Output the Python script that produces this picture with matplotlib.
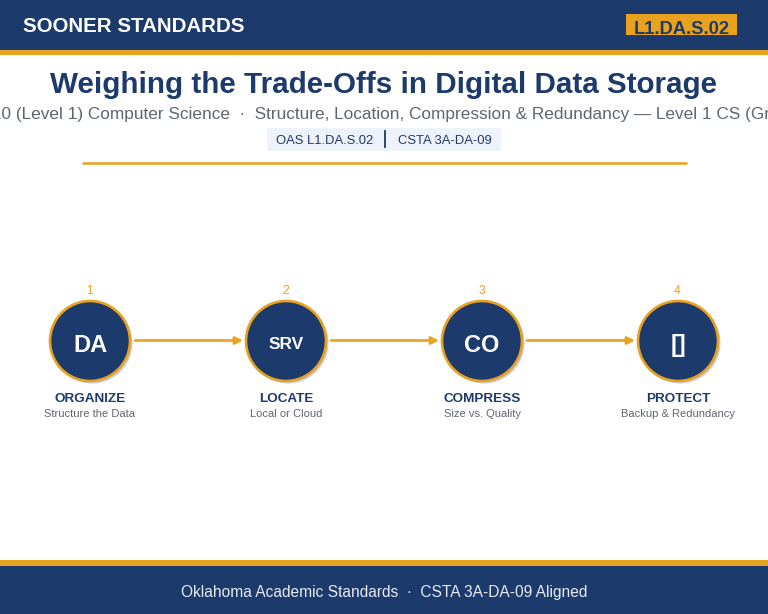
import matplotlib
matplotlib.use("Agg")
import matplotlib.pyplot as plt
from matplotlib.patches import Circle, Rectangle

plt.rcParams["font.family"] = ["Liberation Sans", "DejaVu Sans"]

#Text content
header = "SOONER STANDARDS"
badge = "L1.DA.S.02"
title = "Weighing the Trade-Offs in Digital Data Storage"
subtitle = "Grades 9-10 (Level 1) Computer Science  \u00b7  Structure, Location, Compression & Redundancy \u2014 Level 1 CS (Grades 9-10)"
tag_left = "OAS L1.DA.S.02"
tag_right = "CSTA 3A-DA-09"
footer = "Oklahoma Academic Standards  \u00b7  CSTA 3A-DA-09 Aligned"

#Process steps
numbers = ["1", "2", "3", "4"]
icons = ["DA", "SRV", "CO", "[]"]
icon_sizes = [17, 12.5, 17, 17]
names = ["ORGANIZE", "LOCATE", "COMPRESS", "PROTECT"]
captions = ["Structure the Data", "Local or Cloud", "Size vs. Quality", "Backup & Redundancy"]

navy = "#1c3a6b"
gold = "#e9a120"
grey = "#5f6670"

fig = plt.figure(figsize=(7.68, 6.14), dpi=100)
ax = fig.add_axes([0, 0, 1, 1])
ax.set_xlim(0, 768)
ax.set_ylim(614, 0)
ax.axis("off")

#Header band
ax.add_patch(Rectangle((0, 0), 768, 49.5, color=navy, lw=0))
ax.add_patch(Rectangle((0, 49.5), 768, 5, color=gold, lw=0))
ax.text(23, 26.5, header, color="white", fontsize=14.75, fontweight="bold", ha="left", va="center")
ax.add_patch(Rectangle((626, 14), 111, 21, color=gold, lw=0))
ax.text(681.5, 29.5, badge, color=navy, fontsize=13.2, fontweight="bold", ha="center", va="center")

#Title block
ax.text(384, 85, title, color=navy, fontsize=21.3, fontweight="bold", ha="center", va="center")
ax.text(384, 114.5, subtitle, color=grey, fontsize=12.4, ha="center", va="center")
ax.add_patch(Rectangle((267, 128), 234, 23, color="#eef2fa", lw=0))
ax.text(324.5, 140.5, tag_left, color=navy, fontsize=9.4, ha="center", va="center")
ax.plot([384.5, 384.5], [131, 147], color=navy, lw=1.3)
ax.text(444.5, 140.5, tag_right, color=navy, fontsize=9.4, ha="center", va="center")
ax.plot([82, 687], [162.5, 162.5], color=gold, lw=1.8, solid_capstyle="butt")

#Steps
step_x = [90, 286, 482, 678]
for i in range(len(names)):
    x = step_x[i]
    ax.text(x - 0.5, 291.5, numbers[i], color=gold, fontsize=8.7, ha="center", va="center")
    ax.add_patch(Circle((x + 2, 343), 40.5, color="#c9ced8", lw=0))
    ax.add_patch(Circle((x, 341), 40, facecolor=navy, edgecolor=gold, lw=1.9))
    ax.text(x, 345.5 if i != 1 else 344.5, icons[i], color="white", fontsize=icon_sizes[i], fontweight="bold", ha="center", va="center")
    ax.text(x, 398.5, names[i], color=navy, fontsize=9.7, fontweight="bold", ha="center", va="center")
    ax.text(x, 414, captions[i], color=grey, fontsize=8.0, ha="center", va="center")
    if i < len(names) - 1:
        ax.annotate("", xy=(x + 153, 340.5), xytext=(x + 45, 340.5),
                    arrowprops=dict(arrowstyle="-|>", color=gold, lw=1.9, mutation_scale=11, shrinkA=0, shrinkB=0))

#Footer band
ax.add_patch(Rectangle((0, 560), 768, 5.5, color=gold, lw=0))
ax.add_patch(Rectangle((0, 565.5), 768, 48.5, color=navy, lw=0))
ax.text(384, 592.5, footer, color="#e6eaf2", fontsize=11.2, ha="center", va="center")

fig.savefig("out.png", dpi=100)
